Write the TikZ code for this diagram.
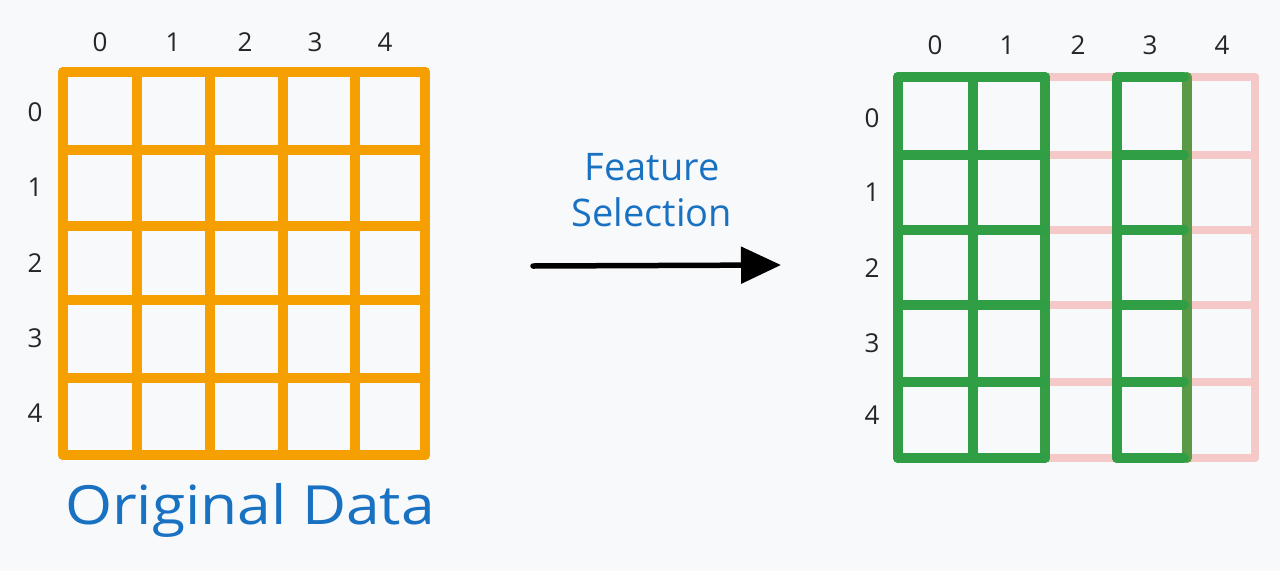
\documentclass[tikz,border=0pt]{standalone}
\usepackage{fontspec}
\setmainfont{Open Sans}
\usetikzlibrary{arrows.meta}
\definecolor{bg}{HTML}{F8F9FB}
\definecolor{exorange}{HTML}{F59F00}
\definecolor{exgreen}{HTML}{2F9E44}
\definecolor{exolive}{HTML}{5A9A47}
\definecolor{expink}{HTML}{F6C9C9}
\definecolor{exblue}{HTML}{1971C2}
\begin{document}
\begin{tikzpicture}[x=1pt,y=-1pt,
  lbl/.style={font=\fontsize{26}{28}\selectfont, text=black!85, inner sep=0pt},
  bluetxt/.style={text=exblue, inner sep=0pt, align=center},
  og/.style={exorange, line width=10pt, line cap=round, line join=round},
  gg/.style={exgreen, line width=10pt, line cap=round, line join=round},
  pg/.style={expink, line width=8pt, line cap=round}]
\fill[bg] (0,0) rectangle (1280,571);
\useasboundingbox (0,0) rectangle (1280,571);

% left grid
\foreach \x in {63,137,210,283,355,425} \draw[og] (\x,72) -- (\x,455);
\foreach \y in {72,150,226,300,378,455} \draw[og] (63,\y) -- (425,\y);

\foreach \i/\x in {0/100,1/173,2/245,3/315,4/385}
  \node[lbl] (lc\i) at (\x,42) {\i};
\foreach \i/\y in {0/112,1/187,2/263,3/338,4/413}
  \node[lbl] (lr\i) at (35,\y) {\i};

\node[bluetxt, font=\fontsize{54}{60}\selectfont] (orig) at (250,510) {\scalebox{1.12}[1]{Original Data}};

% arrow
\node[bluetxt, font=\fontsize{38}{46}\selectfont] (fs) at (652,190) {Feature\\Selection};
\coordinate (as) at (533,266);
\coordinate (ae) at (781,265);
\draw[black, line width=5.5pt, line cap=round, -{Triangle[length=40pt,width=36pt]}] (as) -- (ae);

% right grid
\foreach \y in {77,155,230,305,382,458} {
  \draw[pg] (1045,\y) -- (1117,\y);
  \draw[pg] (1187,\y) -- (1255,\y);
}
\draw[pg] (1255,77) -- (1255,458);
\foreach \x in {898,973} \draw[gg] (\x,77) -- (\x,458);
\draw[gg, color=exgreen!85!exolive] (1045,77) -- (1045,458);
\draw[gg] (1117,77) -- (1117,458);
\draw[gg, color=exolive] (1187,77) -- (1187,458);
\foreach \y in {77,155,230,305,382,458} {
  \draw[gg] (898,\y) -- (1045,\y);
  \draw[gg] (1117,\y) -- (1184,\y);
}

\foreach \i/\x in {0/935,1/1007,2/1078,3/1150,4/1222}
  \node[lbl] (rc\i) at (\x,45) {\i};
\foreach \i/\y in {0/118,1/192,2/268,3/343,4/415}
  \node[lbl] (rr\i) at (872,\y) {\i};
\end{tikzpicture}
\end{document}
